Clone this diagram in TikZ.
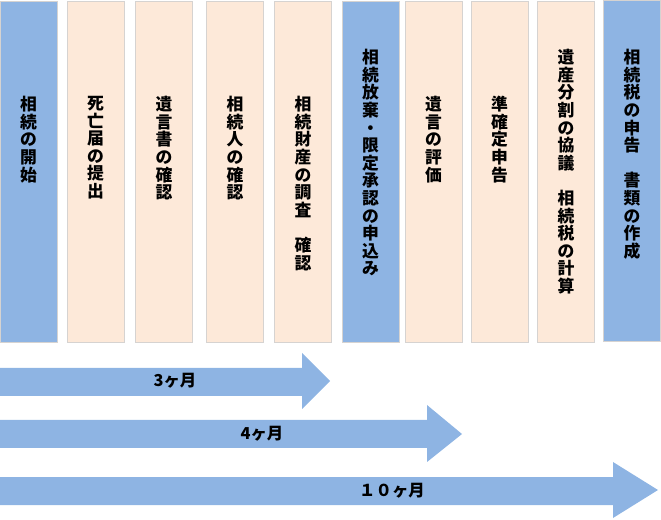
\documentclass[tikz,border=0pt]{standalone}
\usepackage{fontspec}
\setmainfont{Noto Sans CJK JP}
\usetikzlibrary{positioning}

\definecolor{stepblue}{HTML}{8EB4E3}
\definecolor{steppeach}{HTML}{FDE9D9}
\definecolor{stepedge}{HTML}{D6D3D1}

\tikzset{
  col/.style={draw=stepedge, line width=0.75pt, minimum width=42.75pt, minimum height=255.75pt, inner sep=0pt},
  bluecol/.style={col, fill=stepblue},
  peachcol/.style={col, fill=steppeach},
  coltext/.style={anchor=north, align=center, inner sep=0pt, font=\fontsize{12.6}{13.2}\selectfont\bfseries},
  period/.style={fill=stepblue},
  periodtext/.style={inner sep=0pt, font=\fontsize{12.3}{14}\selectfont\bfseries}
}

\begin{document}
\begin{tikzpicture}[x=0.75pt, y=-0.75pt]
    \useasboundingbox (0,0) rectangle (661,520);

    % steps
    \node[bluecol] (c1) at (28.5,172.5) {};
    \node[peachcol] (c2) at (95.5,172.5) {};
    \node[peachcol] (c3) at (164,172.5) {};
    \node[peachcol] (c4) at (235,172.5) {};
    \node[peachcol] (c5) at (303,172.5) {};
    \node[bluecol] (c6) at (370.5,172.5) {};
    \node[peachcol] (c7) at (433.5,172.5) {};
    \node[peachcol] (c8) at (499.5,172.5) {};
    \node[peachcol] (c9) at (566,172.5) {};
    \node[bluecol] (c10) at (632,171) {};

    \node[coltext] (t1) at (28.5,96) {相\\続\\の\\開\\始};
    \node[coltext] (t2) at (95.5,96) {死\\亡\\届\\の\\提\\出};
    \node[coltext] (t3) at (164,96) {遺\\言\\書\\の\\確\\認};
    \node[coltext] (t4) at (235,96) {相\\続\\人\\の\\確\\認};
    \node[coltext] (t5) at (303,96) {相\\続\\財\\産\\の\\調\\査\\　\\確\\認};
    \node[coltext] (t6) at (370.5,49) {相\\続\\放\\棄\\・\\限\\定\\承\\認\\の\\申\\込\\み};
    \node[coltext] (t7) at (433.5,96) {遺\\言\\の\\評\\価};
    \node[coltext] (t8) at (499.5,96) {準\\確\\定\\申\\告};
    \node[coltext] (t9) at (566,49) {遺\\産\\分\\割\\の\\協\\議\\　\\相\\続\\税\\の\\計\\算};
    \node[coltext] (t10) at (632,49) {相\\続\\税\\の\\申\\告\\　\\書\\類\\の\\作\\成};

    % deadlines
    \fill[period] (0,368) -- (302,368) -- (302,353) -- (330,381) -- (302,409) -- (302,396) -- (0,396) -- cycle;
    \fill[period] (0,420) -- (427,420) -- (427,405) -- (462,434) -- (427,462) -- (427,448) -- (0,448) -- cycle;
    \fill[period] (0,477) -- (613,477) -- (613,462) -- (658,490) -- (613,518) -- (613,505) -- (0,505) -- cycle;

    \node[periodtext] (m3) at (175,381) {3ヶ月};
    \node[periodtext] (m4) at (262,434) {4ヶ月};
    \node[periodtext] (m10) at (392,491) {１０ヶ月};
\end{tikzpicture}
\end{document}
